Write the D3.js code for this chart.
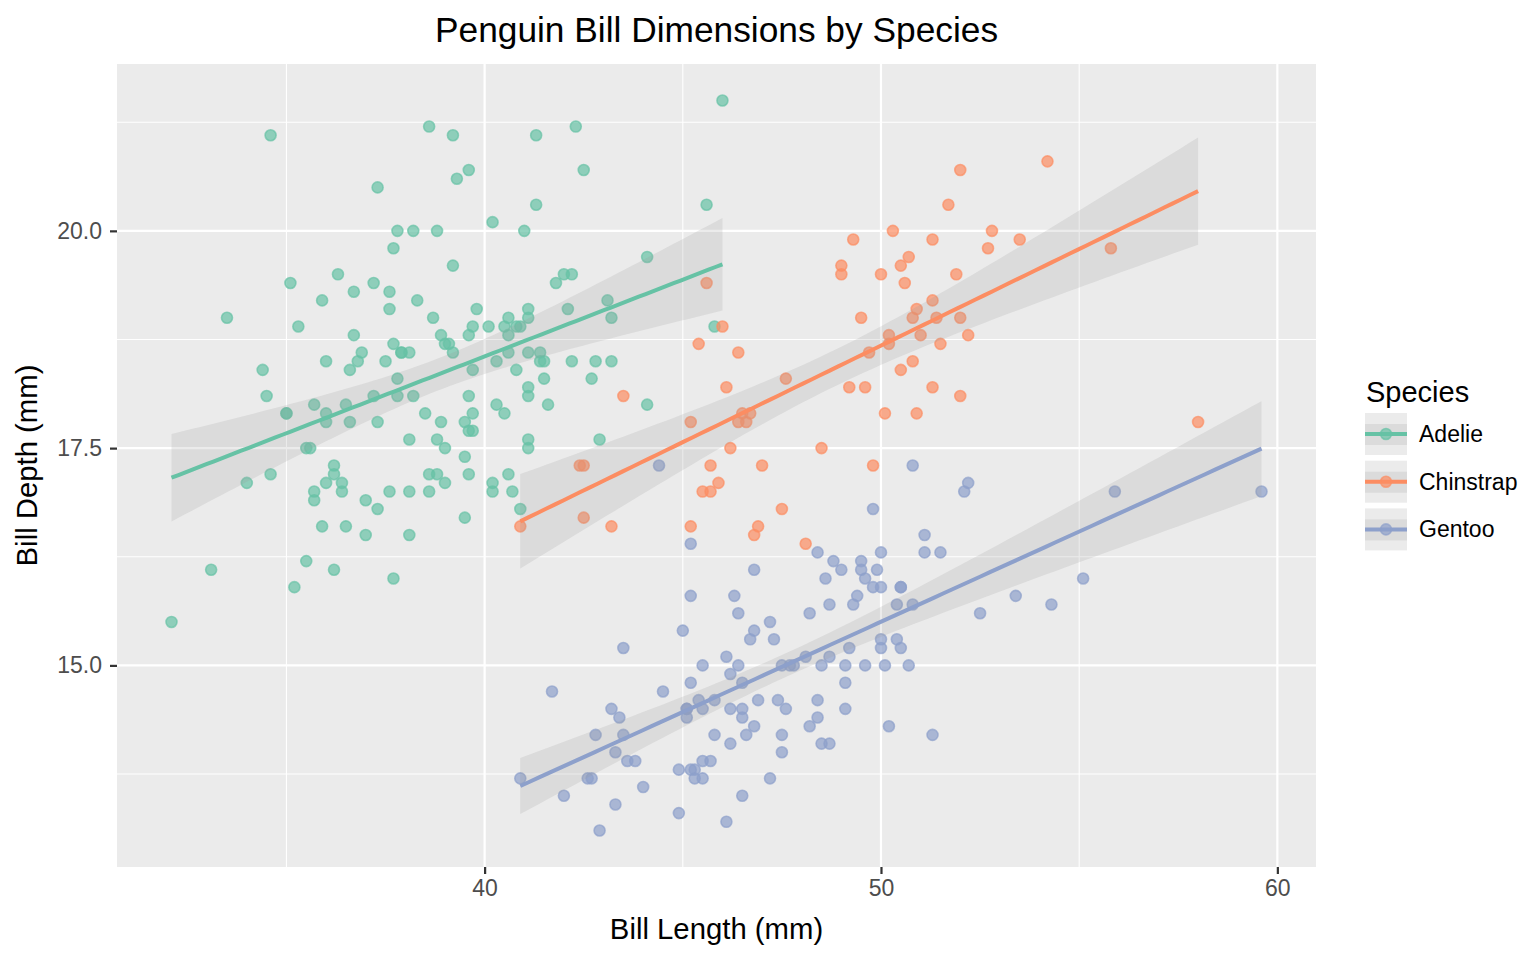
<!DOCTYPE html>
<html>
<head>
<meta charset="utf-8">
<script src="https://cdn.jsdelivr.net/npm/d3@7"></script>
<style>
  body { margin: 0; background: #fff; }
  text { font-family: "Liberation Sans", Arial, Helvetica, sans-serif; }
</style>
</head>
<body>
<svg id="chart" width="1536" height="960"></svg>
<script>
// bill length, bill depth (mm)
var species = ["Adelie", "Chinstrap", "Gentoo"]
var colors = ["#66c2a5", "#fc8d62", "#8da0cb"]

var adelie = [
  [39.1,18.7],[39.5,17.4],[40.3,18],[36.7,19.3],[39.3,20.6],[38.9,17.8],[39.2,19.6],[41.1,17.6],[38.6,21.2],[34.6,21.1],
  [36.6,17.8],[38.7,19],[42.5,20.7],[34.4,18.4],[46,21.5],[37.8,18.3],[37.7,18.7],[35.9,19.2],[38.2,18.1],[38.8,17.2],
  [35.3,18.9],[40.6,18.6],[40.5,17.9],[37.9,18.6],[40.5,18.9],[39.5,16.7],[37.2,18.1],[39.5,17.8],[40.9,18.9],[36.4,17],
  [39.2,21.1],[38.8,20],[42.2,18.5],[37.6,19.3],[39.8,19.1],[36.5,18],[40.8,18.4],[36,18.5],[44.1,19.7],[37,16.9],
  [39.6,18.8],[41.1,19],[36,17.9],[42.3,21.2],[39.6,17.7],[40.1,18.9],[35,17.9],[42,19.5],[34.5,18.1],[41.4,18.6],
  [39,17.5],[40.6,18.8],[36.5,16.6],[37.6,19.1],[35.7,16.9],[41.3,21.1],[37.6,17],[41.1,18.2],[36.4,17.1],[41.6,18],
  [35.5,16.2],[41.1,19.1],[35.9,16.6],[41.8,19.4],[33.5,19],[39.7,18.4],[39.6,17.2],[45.8,18.9],[35.5,17.5],[42.8,18.5],
  [40.9,16.8],[37.2,19.4],[36.2,16.1],[42.1,19.1],[34.6,17.2],[42.9,17.6],[36.7,18.8],[35.1,19.4],[37.3,17.8],[41.3,20.3],
  [36.3,19.5],[36.9,18.6],[38.3,19.2],[38.9,18.8],[35.7,18],[41.1,18.1],[34,17.1],[39.6,18.1],[36.2,17.3],[40.8,18.9],
  [38.1,18.6],[40.3,18.5],[33.1,16.1],[43.2,18.5],[35,17.9],[41,20],[37.7,16],[37.8,20],[37.9,18.6],[39.7,18.9],
  [38.6,17.2],[38.2,20],[38.1,17],[43.2,19],[38.1,16.5],[45.6,20.3],[39.7,17.7],[42.2,19.5],[39.6,20.7],[42.7,18.3],
  [38.6,17],[37.3,20.5],[35.7,17],[41.1,18.6],[36.2,17.2],[37.7,19.8],[40.2,17],[41.4,18.5],[35.2,15.9],[40.6,19],
  [38.8,17.6],[41.5,18.3],[39,17.1],[44.1,18],[38.5,17.9],[43.1,19.2],[36.8,18.5],[37.5,18.5],[38.1,17.6],[41.1,17.5],
  [35.6,17.5],[40.2,20.1],[37,16.5],[39.7,17.9],[40.2,17.1],[40.6,17.2],[32.1,15.5],[40.7,17],[37.3,16.8],[39,18.7],
  [39.2,18.6],[36.6,18.4],[36,17.8],[37.8,18.1],[36,17.1],[41.5,18.5]
]

var chinstrap = [
  [46.5,17.9],[50,19.5],[51.3,19.2],[45.4,18.7],[52.7,19.8],[45.2,17.8],[46.1,18.2],[51.3,18.2],[46,18.9],[51.3,19.9],
  [46.6,17.8],[51.7,20.3],[47,17.3],[52,18.1],[45.9,17.1],[50.5,19.6],[50.3,20],[58,17.8],[46.4,18.6],[49.2,18.2],
  [42.4,17.3],[48.5,17.5],[43.2,16.6],[50.6,19.4],[46.7,17.9],[52,19],[50.5,18.4],[49.5,19],[46.4,17.8],[52.8,20],
  [40.9,16.6],[54.2,20.8],[42.5,16.7],[51,18.8],[49.7,18.6],[47.5,16.8],[47.6,18.3],[52,20.7],[46.9,16.6],[53.5,19.9],
  [49,19.5],[46.2,17.5],[50.9,19.1],[45.5,17],[50.9,17.9],[50.8,18.5],[50.1,17.9],[49,19.6],[51.5,18.7],[49.8,17.3],
  [48.1,16.4],[51.4,19],[45.7,17.3],[50.7,19.7],[42.5,17.3],[52.2,18.8],[45.2,16.6],[49.3,19.9],[50.2,18.8],[45.6,19.4],
  [51.9,19.5],[46.8,16.5],[45.7,17],[55.8,19.8],[43.5,18.1],[49.6,18.2],[50.8,19],[50.2,18.7]
]

var gentoo = [
  [46.1,13.2],[50,16.3],[48.7,14.1],[50,15.2],[47.6,14.5],[46.5,13.5],[45.4,14.6],[46.7,15.3],[43.3,13.4],[46.8,15.4],
  [40.9,13.7],[49,16.1],[45.5,13.7],[48.4,14.6],[45.8,14.6],[49.3,15.7],[42,13.5],[49.2,15.2],[46.2,14.5],[48.7,15.1],
  [50.2,14.3],[45.1,14.5],[46.5,14.5],[46.3,15.8],[42.9,13.1],[46.1,15.1],[47.8,15],[48.2,14.3],[50,15.3],[47.3,15.3],
  [42.8,14.2],[45.1,14.5],[59.6,17],[49.1,14.8],[48.4,16.3],[42.6,13.7],[44.4,17.3],[44,13.6],[48.7,15.7],[42.7,13.7],
  [49.6,16],[45.3,13.7],[49.6,15],[50.5,15.9],[43.6,13.9],[45.5,13.9],[50.5,15.9],[44.9,13.3],[45.2,15.8],[46.6,14.2],
  [48.5,14.1],[45.1,14.4],[50.1,15],[46.5,14.4],[45,15.4],[43.8,13.9],[45.5,15],[43.2,14.5],[50.4,15.3],[45.3,13.8],
  [46.2,14.9],[45.7,13.9],[54.3,15.7],[45.8,14.2],[49.8,16.8],[49.5,16.2],[43.5,14.2],[50.7,15],[47.7,15],[46.4,15.6],
  [48.2,15.6],[46.5,14.8],[46.4,15],[48.6,16],[47.5,14.2],[51.1,16.3],[45.2,13.8],[45.2,16.4],[49.1,14.5],[52.5,15.6],
  [47.4,14.6],[50,15.9],[44.9,13.8],[50.8,17.3],[43.4,14.4],[51.3,14.2],[47.5,14],[52.1,17],[47.5,15],[52.2,17.1],
  [45.5,14.5],[49.5,16.1],[44.5,14.7],[50.8,15.7],[49.4,15.8],[46.9,14.6],[48.4,14.4],[51.1,16.5],[48.5,15],[55.9,17],
  [47.2,15.5],[49.1,15],[46.8,16.1],[41.7,14.7],[53.4,15.8],[43.3,14],[48.1,15.1],[50.5,15.2],[49.8,15.9],[43.5,15.2],
  [51.5,16.3],[46.2,14.1],[55.1,16],[48.8,16.2],[47.2,13.7],[46.8,14.3],[50.4,15.7],[45.2,14.8],[49.9,16.1]
]

var xTicks = [40, 50, 60]
var yTicks = [15, 17.5, 20]
var xMinor = [35, 45, 55]
var yMinor = [13.75, 16.25, 18.75, 21.25]

var groups = [adelie, chinstrap, gentoo]

var svg = d3.select("#chart")
var panel = {left: 117, right: 1316, top: 64, bottom: 867}

var all = adelie.concat(chinstrap, gentoo)
function expand(ext) {
  var pad = (ext[1] - ext[0]) * 0.05
  return [ext[0] - pad, ext[1] + pad]
}

var x = d3.scaleLinear()
  .domain(expand(d3.extent(all, function(d) { return d[0] })))
  .range([panel.left, panel.right])

var y = d3.scaleLinear()
  .domain(expand(d3.extent(all, function(d) { return d[1] })))
  .range([panel.bottom, panel.top])

// panel background + grid
svg.append("rect")
  .attr("x", panel.left).attr("y", panel.top)
  .attr("width", panel.right - panel.left)
  .attr("height", panel.bottom - panel.top)
  .attr("fill", "#ebebeb")

var grid = svg.append("g").attr("stroke", "#fff")
grid.selectAll(".xminor").data(xMinor).enter().append("line")
  .attr("x1", x).attr("x2", x).attr("y1", panel.top).attr("y2", panel.bottom)
  .attr("stroke-width", 1.1)
grid.selectAll(".yminor").data(yMinor).enter().append("line")
  .attr("y1", y).attr("y2", y).attr("x1", panel.left).attr("x2", panel.right)
  .attr("stroke-width", 1.1)
grid.selectAll(".xmajor").data(xTicks).enter().append("line")
  .attr("x1", x).attr("x2", x).attr("y1", panel.top).attr("y2", panel.bottom)
  .attr("stroke-width", 2.2)
grid.selectAll(".ymajor").data(yTicks).enter().append("line")
  .attr("y1", y).attr("y2", y).attr("x1", panel.left).attr("x2", panel.right)
  .attr("stroke-width", 2.2)

// points
groups.forEach(function(pts, i) {
  svg.append("g")
    .selectAll("circle")
    .data(pts)
    .enter()
    .append("circle")
    .attr("cx", function(d) { return x(d[0]) })
    .attr("cy", function(d) { return y(d[1]) })
    .attr("r", 5.5)
    .attr("fill", colors[i])
    .attr("fill-opacity", 0.7)
    .attr("stroke", colors[i])
    .attr("stroke-opacity", 0.7)
    .attr("stroke-width", 1.6)
})

// lm fit with 95% band, like geom_smooth(method = "lm")
function fit(pts) {
  var n = pts.length
  var mx = d3.mean(pts, function(d) { return d[0] })
  var my = d3.mean(pts, function(d) { return d[1] })
  var sxx = d3.sum(pts, function(d) { return (d[0] - mx) * (d[0] - mx) })
  var sxy = d3.sum(pts, function(d) { return (d[0] - mx) * (d[1] - my) })
  var b = sxy / sxx, a = my - b * mx
  var rss = d3.sum(pts, function(d) { var r = d[1] - (a + b * d[0]); return r * r })
  var s = Math.sqrt(rss / (n - 2))
  var df = n - 2, z = 1.959964
  var t = z + (z * z * z + z) / (4 * df)
  var ext = d3.extent(pts, function(d) { return d[0] })
  var out = []
  for (var k = 0; k < 80; k++) {
    var xv = ext[0] + (ext[1] - ext[0]) * k / 79
    var yv = a + b * xv
    var se = s * Math.sqrt(1 / n + (xv - mx) * (xv - mx) / sxx)
    out.push({x: xv, y: yv, lo: yv - t * se, hi: yv + t * se})
  }
  return out
}

groups.forEach(function(pts, i) {
  var f = fit(pts)
  svg.append("path")
    .datum(f)
    .attr("fill", "#999999")
    .attr("fill-opacity", 0.2)
    .attr("d", d3.area()
      .x(function(d) { return x(d.x) })
      .y0(function(d) { return y(d.lo) })
      .y1(function(d) { return y(d.hi) }))
  svg.append("path")
    .datum(f)
    .attr("fill", "none")
    .attr("stroke", colors[i])
    .attr("stroke-width", 4)
    .attr("d", d3.line()
      .x(function(d) { return x(d.x) })
      .y(function(d) { return y(d.y) }))
})

// axes
var xAxis = svg.append("g")
  .attr("transform", "translate(0," + panel.bottom + ")")
  .call(d3.axisBottom(x).tickValues(xTicks).tickSize(7).tickPadding(6).tickFormat(d3.format("d")))
var yAxis = svg.append("g")
  .attr("transform", "translate(" + panel.left + ",0)")
  .call(d3.axisLeft(y).tickValues(yTicks).tickSize(7).tickPadding(8).tickFormat(d3.format(".1f")))

;[xAxis, yAxis].forEach(function(ax) {
  ax.select(".domain").remove()
  ax.selectAll(".tick line").attr("stroke", "#333333").attr("stroke-width", 2.2)
  ax.selectAll(".tick text")
    .attr("fill", "#4d4d4d")
    .style("font-size", "23px")
    .style("font-family", "'Liberation Sans', Arial, Helvetica, sans-serif")
})

svg.append("text")
  .attr("x", (panel.left + panel.right) / 2)
  .attr("y", 939)
  .attr("text-anchor", "middle")
  .style("font-size", "29.3px")
  .text("Bill Length (mm)")

svg.append("text")
  .attr("transform", "translate(36.5," + ((panel.top + panel.bottom) / 2) + ") rotate(-90)")
  .attr("text-anchor", "middle")
  .style("font-size", "29.3px")
  .text("Bill Depth (mm)")

svg.append("text")
  .attr("x", (panel.left + panel.right) / 2)
  .attr("y", 42)
  .attr("text-anchor", "middle")
  .style("font-size", "35.3px")
  .text("Penguin Bill Dimensions by Species")

// legend
var legend = svg.append("g").attr("transform", "translate(1365,0)")
legend.append("text")
  .attr("x", 1).attr("y", 402)
  .style("font-size", "29px")
  .text("Species")

var key = legend.selectAll(".key")
  .data(species)
  .enter()
  .append("g")
  .attr("transform", function(d, i) { return "translate(0," + (413 + i * 47.7) + ")" })

key.append("rect").attr("width", 42).attr("height", 42).attr("fill", "#ebebeb")
key.append("rect").attr("y", 11).attr("width", 42).attr("height", 21)
  .attr("fill", "#999999").attr("fill-opacity", 0.2)
key.append("line")
  .attr("x1", 0).attr("x2", 42).attr("y1", 21).attr("y2", 21)
  .attr("stroke", function(d, i) { return colors[i] })
  .attr("stroke-width", 4)
key.append("circle")
  .attr("cx", 21).attr("cy", 21).attr("r", 5.5)
  .attr("fill", function(d, i) { return colors[i] })
  .attr("fill-opacity", 0.7)
  .attr("stroke", function(d, i) { return colors[i] })
  .attr("stroke-opacity", 0.7)
  .attr("stroke-width", 1.6)
key.append("text")
  .attr("x", 54).attr("y", 21)
  .attr("dy", "0.35em")
  .style("font-size", "23px")
  .text(function(d) { return d })
</script>
</body>
</html>
